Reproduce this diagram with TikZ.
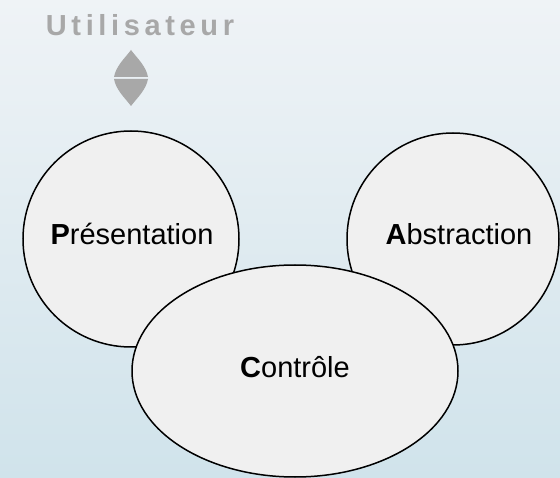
\documentclass[tikz,border=0pt]{standalone}
\usepackage{fontspec}
\setmainfont{Liberation Sans}
\newfontfamily\userfont[LetterSpace=16]{Liberation Sans}
\usetikzlibrary{shapes.geometric}
\definecolor{bgtop}{RGB}{239,243,246}
\definecolor{bgbot}{RGB}{208,227,235}
\definecolor{bubble}{RGB}{240,240,240}
\definecolor{usergray}{RGB}{168,168,168}
\tikzset{
  bubblebox/.style={draw=black, line width=1.5pt, fill=bubble, inner sep=0pt},
  labeltext/.style={font=\fontsize{29}{32}\selectfont, anchor=base, inner sep=0pt},
}
\begin{document}
\begin{tikzpicture}[x=1pt,y=-1pt]
\shade[top color=bgtop, bottom color=bgbot] (0,0) rectangle (560,478);
\useasboundingbox (0,0) rectangle (560,478);
% user label
\node[anchor=base, inner sep=0pt, text=usergray, font=\userfont\bfseries\fontsize{29}{31}\selectfont] (user) at (140,36) {Utilisateur};
% double arrow heads
\fill[usergray] (131,50) .. controls (137,58) and (146,66) .. (148,77) -- (114,77) .. controls (116,66) and (125,58) .. (131,50) -- cycle;
\fill[usergray] (131,106) .. controls (137,98) and (146,90) .. (148,79) -- (114,79) .. controls (116,90) and (125,98) .. (131,106) -- cycle;
% bubbles
\node[bubblebox, circle, minimum size=216pt] (pres) at (131,239) {};
\node[bubblebox, circle, minimum size=212pt] (abs) at (453,239) {};
\node[bubblebox, ellipse, minimum width=326pt, minimum height=212pt] (ctrl) at (295,371) {};
% labels
\node[labeltext] (presl) at (132,245) {\textbf{P}résentation};
\node[labeltext] (absl) at (459,245) {\textbf{A}bstraction};
\node[labeltext] (ctrll) at (295,378) {\textbf{C}ontrôle};
\end{tikzpicture}
\end{document}
